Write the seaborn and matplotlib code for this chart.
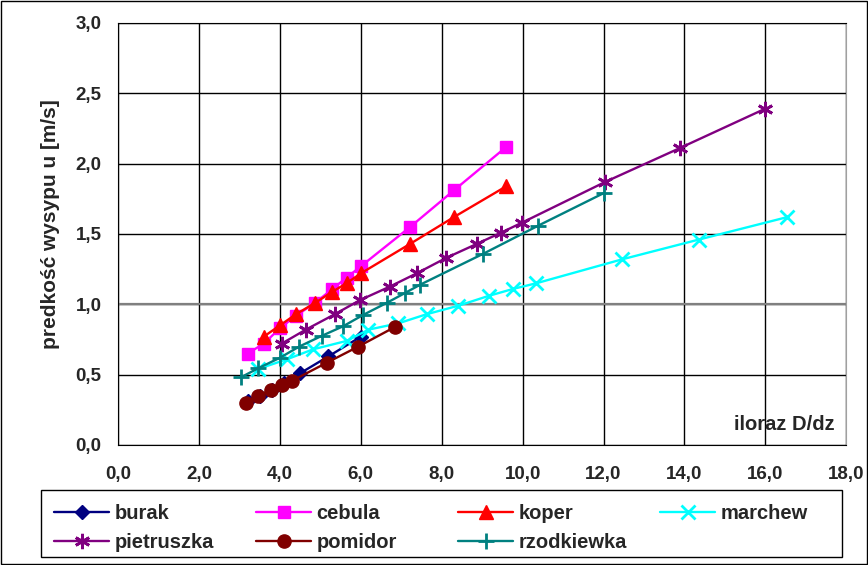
import numpy as np
import pandas as pd
import seaborn as sns
import matplotlib.pyplot as plt
from matplotlib.ticker import FuncFormatter

# values
burak_x = [3.2, 3.5, 3.8, 4.1, 4.5, 5.2, 6.0]
burak_y = [0.31, 0.35, 0.39, 0.44, 0.51, 0.63, 0.77]

cebula_x = [3.2, 3.6, 4.0, 4.4, 4.87, 5.3, 5.65, 6.0, 7.22, 8.3, 9.6]
cebula_y = [0.65, 0.72, 0.83, 0.92, 1.01, 1.11, 1.19, 1.27, 1.55, 1.81, 2.12]

koper_x = [3.6, 4.0, 4.4, 4.87, 5.3, 5.65, 6.0, 7.22, 8.3, 9.6]
koper_y = [0.77, 0.85, 0.93, 1.01, 1.09, 1.15, 1.22, 1.43, 1.62, 1.84]

marchew_x = [3.46, 4.18, 4.82, 5.65, 6.19, 6.93, 7.63, 8.41, 9.16, 9.77, 10.34, 12.46, 14.35, 16.54]
marchew_y = [0.54, 0.61, 0.68, 0.74, 0.82, 0.865, 0.93, 0.99, 1.06, 1.11, 1.15, 1.32, 1.46, 1.62]

pietruszka_x = [4.04, 4.64, 5.36, 5.98, 6.71, 7.38, 8.11, 8.87, 9.47, 9.98, 12.04, 13.88, 15.99]
pietruszka_y = [0.72, 0.82, 0.93, 1.03, 1.125, 1.22, 1.33, 1.43, 1.51, 1.58, 1.87, 2.11, 2.39]

pomidor_x = [3.16, 3.46, 3.77, 4.04, 4.29, 5.16, 5.94, 6.85]
pomidor_y = [0.30, 0.35, 0.39, 0.43, 0.455, 0.585, 0.70, 0.84]

rzodkiewka_x = [3.03, 3.46, 4.0, 4.48, 5.03, 5.57, 6.06, 6.64, 7.09, 7.47, 9.03, 10.39, 12.0]
rzodkiewka_y = [0.48, 0.545, 0.62, 0.70, 0.775, 0.845, 0.925, 1.01, 1.08, 1.14, 1.36, 1.56, 1.79]

x_ticks = [0, 2, 4, 6, 8, 10, 12, 14, 16, 18]
y_ticks = [0.0, 0.5, 1.0, 1.5, 2.0, 2.5, 3.0]

series = [
    ("burak", burak_x, burak_y, "#000080", "D", 7.5, 1),
    ("cebula", cebula_x, cebula_y, "#FF00FF", "s", 9, 1),
    ("koper", koper_x, koper_y, "#FF0000", "^", 9.5, 1),
    ("marchew", marchew_x, marchew_y, "#00FFFF", "x", 9.5, 2),
    ("pietruszka", pietruszka_x, pietruszka_y, "#800080", (6, 2, 0), 11, 2),
    ("pomidor", pomidor_x, pomidor_y, "#800000", "o", 9.5, 1),
    ("rzodkiewka", rzodkiewka_x, rzodkiewka_y, "#008080", "+", 11, 2),
]

sns.set_style("white")
plt.rcParams['font.family'] = ['Liberation Sans', 'DejaVu Sans']
plt.rcParams['font.weight'] = 'bold'

fig = plt.figure(figsize=(8.68, 5.65), dpi=100)
ax = fig.add_axes([0.136, 0.2124, 0.839, 0.7469])

for name, xs, ys, col, mk, ms, mew in series:
    df = pd.DataFrame({"x": xs, "y": ys})
    sns.lineplot(data=df, x="x", y="y", ax=ax, color=col, marker=mk,
                 markersize=ms, markeredgewidth=mew, markeredgecolor=col,
                 linewidth=1.7, estimator=None, sort=False, label=name, zorder=3)

ax.set_xlim(0, 18)
ax.set_ylim(0, 3)
ax.set_xticks(x_ticks)
ax.set_yticks(y_ticks)
fmt = FuncFormatter(lambda v, p: f"{v:.1f}".replace(".", ","))
ax.xaxis.set_major_formatter(fmt)
ax.yaxis.set_major_formatter(fmt)
ax.tick_params(axis="both", labelsize=13.5, direction="out", width=1, color="black")
ax.tick_params(axis="y", length=8, pad=4)
ax.tick_params(axis="x", length=5, pad=10)
for lbl in ax.get_xticklabels() + ax.get_yticklabels():
    lbl.set_fontweight("bold")

ax.grid(True, color="black", linewidth=1, zorder=0)
ax.axhline(1.0, color="#808080", linewidth=1.6, zorder=1)
for s in ["left", "bottom", "top"]:
    ax.spines[s].set_color("black")
ax.spines["right"].set_color("#a0a0a0")

ax.set_xlabel("")
ax.set_ylabel("predkość wysypu u [m/s]", fontsize=15, fontweight="bold")
ax.yaxis.set_label_coords(-0.080, 0.524)
ax.text(0.984, 0.036, "iloraz D/dz", transform=ax.transAxes, ha="right",
        va="baseline", fontsize=14.5, fontweight="bold")

handles, labels = ax.get_legend_handles_labels()
ax.get_legend().remove()

# Excel-like legend: four equal columns, filled row by row
col_x = [54, 256, 458, 660]
for c in range(4):
    idx = [i for i in range(len(labels)) if i % 4 == c]
    leg = fig.legend([handles[i] for i in idx], [labels[i] for i in idx],
                     loc="upper left", bbox_to_anchor=(col_x[c] / 868, 1 - 504 / 565),
                     frameon=False, prop={"size": 14.5, "weight": "bold"},
                     handlelength=2.75, handletextpad=0.25, borderaxespad=0,
                     borderpad=0, labelspacing=0.5)

fig.patches.append(plt.Rectangle((41 / 868, 1 - 557 / 565), 801 / 868, 67 / 565,
                                 transform=fig.transFigure, fill=False,
                                 edgecolor="black", linewidth=1))
fig.patches.append(plt.Rectangle((0.001, 0.001), 0.998, 0.998, transform=fig.transFigure,
                                 fill=False, edgecolor="black", linewidth=1))

fig.savefig("out.png", dpi=100)
